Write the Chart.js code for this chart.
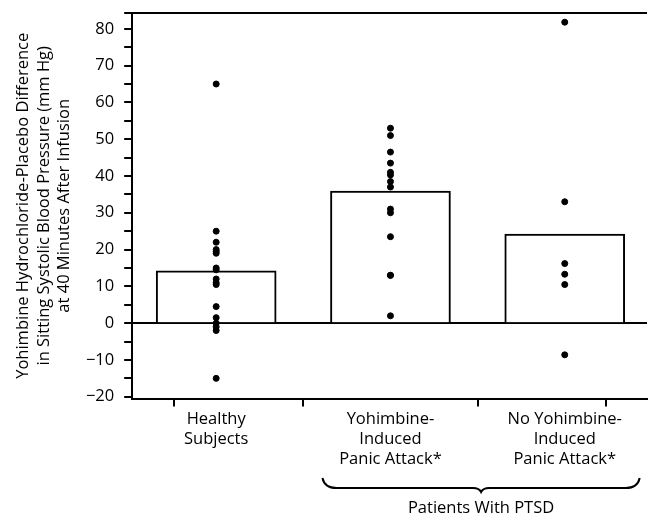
<!DOCTYPE html>
<html>
<head>
<meta charset="utf-8">
<script src="https://cdn.jsdelivr.net/npm/chart.js@4.4.0/dist/chart.umd.min.js"></script>
<style>
  html, body { margin: 0; padding: 0; background: #fff; }
  #wrap { width: 652px; height: 519px; }
</style>
</head>
<body>
<div id="wrap"><canvas id="bpChart"></canvas></div>
<script>
// grupos (posicion en el eje x = 1, 2, 3)
const categories = [
    ["Healthy", "Subjects"],
    ["Yohimbine-", "Induced", "Panic Attack*"],
    ["No Yohimbine-", "Induced", "Panic Attack*"]
];
const groupMeans = [14.2, 35.9, 24.2];

// puntos individuales
const healthyPoints = [65, 25, 22, 20, 19.5, 19, 15, 14.5, 12, 11, 10.5, 4.5, 1.5, 0, -1, -2, -15];
const panicPoints = [53, 51, 46.5, 43.5, 41, 40.3, 38.5, 37, 31, 30, 23.5, 13, 13, 2];
const noPanicPoints = [81.8, 33, 16.2, 13.3, 10.5, -8.6];

const yMin = -20.5;
const yMax = 84.3;
const yTickValues = [-20, -15, -10, -5, 0, 5, 10, 15, 20, 25, 30, 35, 40, 45, 50, 55, 60, 65, 70, 75, 80];
const bracketLabel = "Patients With PTSD";
const yTitle = [
    "Yohimbine Hydrochloride-Placebo Difference",
    "in Sitting Systolic Blood Pressure (mm Hg)",
    "at 40 Minutes After Infusion"
];

const FONT = "'Open Sans'";
const FSIZE = 16.5;

function toPoints(values, pos) {
    return values.map(function (v) {
        return { x: pos, y: v };
    });
}

// llave y texto "Patients With PTSD" debajo de los grupos 2 y 3
const bracketPlugin = {
    id: "bracket",
    afterDraw(chart) {
        const ctx = chart.ctx;
        const xs = chart.scales.x;
        const x1 = xs.getPixelForValue(1.61);
        const x2 = xs.getPixelForValue(3.43);
        const xm = xs.getPixelForValue(2.52);
        const yTop = 478, yMid = 488, yTip = 492;
        ctx.save();
        ctx.strokeStyle = "#000";
        ctx.lineWidth = 2;
        ctx.beginPath();
        ctx.moveTo(x1, yTop);
        ctx.quadraticCurveTo(x1 + 2, yMid, x1 + 14, yMid);
        ctx.lineTo(xm - 8, yMid);
        ctx.quadraticCurveTo(xm - 2, yMid, xm, yTip);
        ctx.quadraticCurveTo(xm + 2, yMid, xm + 8, yMid);
        ctx.lineTo(x2 - 14, yMid);
        ctx.quadraticCurveTo(x2 - 2, yMid, x2, yTop);
        ctx.stroke();
        ctx.fillStyle = "#000";
        ctx.font = FSIZE + "px " + FONT;
        ctx.textAlign = "center";
        ctx.textBaseline = "middle";
        ctx.fillText(bracketLabel, xm, 508);
        ctx.restore();
    }
};

let ctx = document.getElementById("bpChart");
new Chart(ctx, {
    type: "bar",
    data: {
        datasets: [
            {
                type: "bar",
                label: "Mean",
                data: groupMeans.map(function (m, i) { return { x: i + 1, y: m }; }),
                backgroundColor: "#fff",
                borderColor: "#000",
                borderWidth: 2,
                borderSkipped: "bottom",
                barThickness: 120,
                order: 2
            },
            {
                type: "scatter",
                label: "Subjects",
                data: toPoints(healthyPoints, 1)
                    .concat(toPoints(panicPoints, 2))
                    .concat(toPoints(noPanicPoints, 3)),
                backgroundColor: "#000",
                borderColor: "#000",
                pointRadius: 3,
                order: 1
            }
        ]
    },
    options: {
        responsive: true,
        maintainAspectRatio: false,
        animation: false,
        layout: { padding: { left: 13, right: 2, top: 13, bottom: 47 } },
        scales: {
            x: {
                type: "linear",
                min: 0.518,
                max: 3.472,
                offset: false,
                border: { display: true, color: "#000", width: 2 },
                grid: {
                    drawOnChartArea: false,
                    drawTicks: true,
                    tickLength: 8,
                    tickColor: "#000",
                    lineWidth: 2
                },
                ticks: {
                    stepSize: 1,
                    autoSkip: false,
                    maxRotation: 0,
                    padding: 3,
                    color: "#000",
                    font: { family: FONT, size: FSIZE, lineHeight: 1.2 },
                    callback: function (value) {
                        if (Number.isInteger(value) && value >= 1 && value <= 3) {
                            return categories[value - 1];
                        }
                        return "";
                    }
                }
            },
            y: {
                type: "linear",
                min: yMin,
                max: yMax,
                border: { display: true, color: "#000", width: 2 },
                afterBuildTicks: function (scale) {
                    scale.ticks = yTickValues.concat([yMax]).map(function (v) { return { value: v }; });
                },
                grid: {
                    drawOnChartArea: true,
                    drawTicks: true,
                    tickLength: 8,
                    lineWidth: 2,
                    tickColor: "#000",
                    color: function (c) {
                        if (c.tick && (c.tick.value === 0 || c.tick.value === yMax)) return "#000";
                        return "rgba(0,0,0,0)";
                    }
                },
                ticks: {
                    autoSkip: false,
                    padding: 10,
                    color: "#000",
                    font: function (c) {
                        if (c.tick && c.tick.value === yMax) return { family: FONT, size: 1, lineHeight: 1 };
                        return { family: FONT, size: FSIZE };
                    },
                    callback: function (value) {
                        if (value % 10 === 0) return value < 0 ? "\u2212" + Math.abs(value) : String(value);
                        return "";
                    }
                },
                title: {
                    display: true,
                    text: yTitle,
                    color: "#000",
                    font: { family: FONT, size: FSIZE, lineHeight: 1.25 },
                    padding: { top: 0, bottom: 1 }
                }
            }
        },
        plugins: {
            legend: { display: false },
            tooltip: { enabled: false }
        }
    },
    plugins: [bracketPlugin]
});
</script>
</body>
</html>
